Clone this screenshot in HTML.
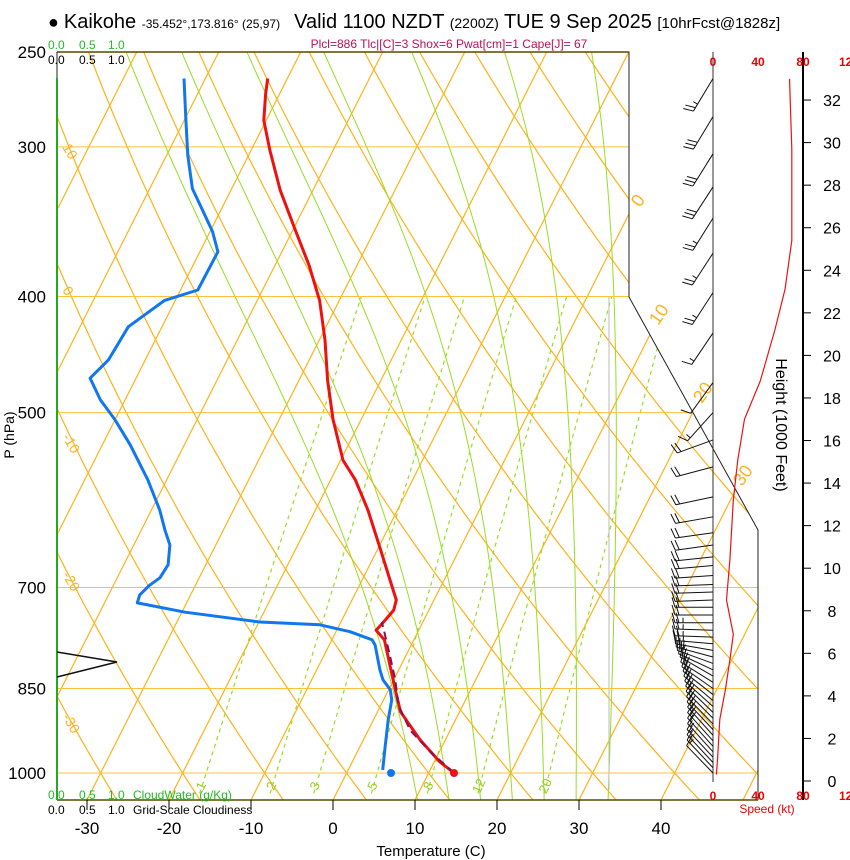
<!DOCTYPE html>
<html><head><meta charset="utf-8"><style>
html,body{margin:0;padding:0;background:#fff;}
body{width:850px;height:860px;overflow:hidden;font-family:"Liberation Sans",sans-serif;}
svg{display:block;}
</style></head><body>
<svg id="chart" width="850" height="860" viewBox="0 0 850 860" xmlns="http://www.w3.org/2000/svg" font-family="Liberation Sans, sans-serif">
<defs><clipPath id="plotclip"><polygon points="57,52 629,52 629,297 758,530 758,800 57,800"/></clipPath></defs>
<g id="bg" clip-path="url(#plotclip)"></g>
<g id="fg"></g>
</svg>
<script>
// ---- data ----
const tempP=[1000,979,938,889,852,812,774,760,745,731,717,690,651,603,569,548,507,470,435,403,377,352,326,302,285,271,263];
const tempT=[13.1,10.7,6.9,2.8,0.8,-1.4,-3.6,-5.2,-4.7,-4.3,-4.6,-6.6,-9.6,-13.6,-17.0,-19.7,-23.4,-26.5,-29.3,-32.4,-35.8,-39.7,-44.0,-47.7,-50.3,-51.7,-52.4];
const dewP=[994,948,903,869,852,836,820,782,774,762,752,748,734,721,710,697,687,670,645,627,603,569,532,507,488,468,452,424,403,395,367,353,339,325,305,285,263];
const dewT=[4.2,3.0,1.8,1.0,0.2,-1.3,-2.3,-4.4,-5.1,-8.3,-12.4,-19.9,-29.6,-36.0,-36.2,-35.6,-34.8,-34.6,-35.6,-37.1,-39.0,-42.3,-46.6,-50.0,-53.0,-55.6,-54.5,-54.1,-51.3,-47.9,-47.8,-49.7,-52.2,-54.8,-57.4,-59.8,-62.6];
const parcelP=[1000,960,921,877,836,797,748];
const parcelT=[13.1,8.9,5.1,2.1,0.2,-2.0,-5.0];
const windP=[263,283,304,324,344,368,397,429,472,500,527,555,588,611,630,645,660,671,684,696,706,717,727,738,749,760,770,780,790,800,810,820,830,840,850,860,870,880,890,900,910,920,930,940,950,960,970,980,990,1000];
const windDir=[211,211,212,213,212,213,213,214,216,222,250,255,258,260,262,262,264,265,266,268,268,268,270,270,270,272,272,275,280,285,290,295,300,302,305,308,310,312,314,315,316,317,318,318,318,318,317,317,317,316];
const windSpd=[25,30,30,30,25,25,25,15,10,15,20,20,20,20,20,20,20,20,20,20,20,20,20,20,25,25,25,25,25,25,25,25,25,20,20,20,20,20,20,20,20,20,20,20,20,15,15,15,15,10];
const spdH=[33.0,29.7,25.4,23.1,21.2,18.8,17.0,15.1,13.2,10.4,8.5,6.9,5.7,4.3,2.9,1.0,0.3];
const spdV=[68,70,70,64,55,42,28,22,18,15,12,18,15,11,6,4,3];
const tempTicks=[-30,-20,-10,0,10,20,30,40];
const presTicks=[250,300,400,500,700,850,1000];
const heightTicks=[0,2,4,6,8,10,12,14,16,18,20,22,24,26,28,30,32];
const mixRatios=[1,2,3,5,8,12,20];
const moistThetaW=[8,12,16,20,24,28,32];
// ---- axes ----
function py(p){return 773+520*Math.log(p/1000);}
function tx(T,p){return 333+8.2*T+0.505*(800-py(p));}
function hy(h){return 781-21.28*h;}
function sx(s){return 713+s*45/40;}
const NS='http://www.w3.org/2000/svg';
const bg=document.getElementById('bg'), fg=document.getElementById('fg');
function mk(tag,attrs,parent){const e=document.createElementNS(NS,tag);for(const k in attrs)e.setAttribute(k,attrs[k]);(parent||fg).appendChild(e);return e;}
function txt(s,x,y,attrs,parent){const e=mk('text',Object.assign({x:x,y:y},attrs),parent);e.textContent=s;return e;}
function pathFrom(pts){return pts.map((q,i)=>(i?'L':'M')+q[0].toFixed(1)+','+q[1].toFixed(1)).join(' ');}
for(let T=-110;T<=50;T+=10){
  const e=mk('line',{x1:tx(T,1060),y1:py(1060),x2:tx(T,240),y2:py(240),stroke:'#ffb21a','stroke-width':1.2},bg);
  
  
}
for(let th=-50;th<=200;th+=10){
  const pts=[];for(let p=1060;p>=240;p-=10){pts.push([tx((th+273.15)*Math.pow(p/1000,0.2857)-273.15,p),py(p)]);}
  const e=mk('path',{d:pathFrom(pts),fill:'none',stroke:'#ffb21a','stroke-width':1.2},bg);
  
  
}
function es(T){return 6.112*Math.exp(17.67*T/(T+243.5));}
function ws(T,p){const e=es(T);return 0.622*e/(p-e);}
const dTdp=(T,p)=>{const r=ws(T-273.15,p);return (287*T+2.5e6*r)/(1004+2.5e6*2.5e6*r*0.622/(287*T*T))/p;};
moistThetaW.forEach(t0=>{
  let T=t0+273.15,Tb=T;
  for(let pb=1000;pb<1060;pb+=5){Tb+=dTdp(Tb,pb)*5;}
  const pts=[[tx(Tb-273.15,1060),py(1060)]];
  for(let p=1000;p>=240;p-=5){pts.push([tx(T-273.15,p),py(p)]);T-=dTdp(T,p)*5;}
  const e=mk('path',{d:pathFrom(pts),fill:'none',stroke:'#99dd22','stroke-width':1},bg);
  
  
});
function tw(w,p){const e=w*p/(0.622+w);const l=Math.log(e/6.112);return 243.5*l/(17.67-l);}
mixRatios.forEach(w=>{
  const pts=[];for(let p=1040;p>=400;p-=10)pts.push([tx(tw(w/1000,p),p),py(p)]);
  const e=mk('path',{d:pathFrom(pts),fill:'none',stroke:'#99dd22','stroke-width':1.2,'stroke-dasharray':'4,4'},bg);
  
  
  const lx=tx(tw(w/1000,1030),1030);
  const t=txt(String(w),lx,790,{fill:'#99cc22','font-size':13,'text-anchor':'middle',transform:'rotate(-65 '+lx+' 786)'},bg);
  
  
});
mk('line',{x1:609,y1:297,x2:609,y2:790,stroke:'#bbb','stroke-width':1},bg);
presTicks.forEach(p=>{
  const e=mk('line',{x1:57,y1:py(p),x2:760,y2:py(p),stroke:'#ffc040','stroke-width':1},bg);
  
  
});
[[10,147],[0,290],[-10,437],[-20,575],[-30,717]].forEach(a=>{
  const t=txt(String(a[0]),62,a[1],{fill:'#ffb21a','font-size':14,transform:'rotate(60 62 '+a[1]+')'});
  
  
});
[[0,640,208],[10,658,326],[20,702,404],[30,742,487]].forEach(a=>{
  const t=txt(String(a[0]),a[1],a[2],{fill:'#ffb21a','font-size':18,transform:'rotate(-55 '+a[1]+' '+a[2]+')'});
  
  
});
mk('polyline',{points:'57,52 629,52 629,297 758,530 758,800',fill:'none',stroke:'#222','stroke-width':1});
mk('line',{x1:57,y1:52,x2:629,y2:52,stroke:'#5a4a00','stroke-width':1.5});
mk('line',{x1:57,y1:800,x2:758,y2:800,stroke:'#5a4a00','stroke-width':1.5});
mk('line',{x1:57,y1:52,x2:57,y2:78,stroke:'#222','stroke-width':1});
mk('line',{x1:57,y1:78,x2:57,y2:800,stroke:'#22aa22','stroke-width':2});
mk('polyline',{points:'57,652 117,662 57,677',fill:'none',stroke:'#111','stroke-width':1.5});
let e=mk('path',{d:pathFrom(tempP.map((p,i)=>[tx(tempT[i],p),py(p)])),fill:'none',stroke:'#ee1111','stroke-width':3,'stroke-linejoin':'round'});


e=mk('path',{d:pathFrom(dewP.map((p,i)=>[tx(dewT[i],p),py(p)])),fill:'none',stroke:'#1177ee','stroke-width':3,'stroke-linejoin':'round'});


e=mk('path',{d:pathFrom(parcelP.map((p,i)=>[tx(parcelT[i],p),py(p)])),fill:'none',stroke:'#881155','stroke-width':2,'stroke-dasharray':'8,5'});


e=mk('circle',{cx:454,cy:773,r:4,fill:'#ee1111'});


e=mk('circle',{cx:391,cy:773,r:4,fill:'#1177ee'});


mk('line',{x1:713,y1:52,x2:713,y2:782,stroke:'#333','stroke-width':1});
mk('line',{x1:803,y1:52,x2:803,y2:800,stroke:'#000','stroke-width':2});
windP.forEach((p,i)=>{
  const y=py(p),a=windDir[i]*Math.PI/180,L=38;
  const ux=Math.sin(a),uy=-Math.cos(a);
  const x2=713+ux*L,y2=y+uy*L;
  const g=mk('g',{});
  
  
  mk('line',{x1:713,y1:y,x2:x2,y2:y2,stroke:'#111','stroke-width':1},g);
  let s=windSpd[i],k=0;
  const nx=-uy,ny=ux;
  while(s>=10){const bx=x2-ux*k*4,by=y2-uy*k*4;mk('line',{x1:bx,y1:by,x2:bx+nx*10+ux*3,y2:by+ny*10+uy*3,stroke:'#111','stroke-width':1},g);s-=10;k++;}
  if(s>=5){const bx=x2-ux*k*4,by=y2-uy*k*4;mk('line',{x1:bx,y1:by,x2:bx+nx*5,y2:by+ny*5,stroke:'#111','stroke-width':1},g);}
});
e=mk('path',{d:pathFrom(spdH.map((h,i)=>[sx(spdV[i]),hy(h)])),fill:'none',stroke:'#ee1111','stroke-width':1.2});


heightTicks.forEach(h=>{
  mk('line',{x1:803,y1:hy(h),x2:811,y2:hy(h),stroke:'#000'});
  const t=txt(String(h),832,hy(h)+6,{'font-size':16,'text-anchor':'middle'});
  
  
});
[[0,713],[40,758],[80,803],[120,849]].forEach(a=>{
  txt(String(a[0]),a[1],66,{'font-size':12,'font-weight':'bold',fill:'#ee0000','text-anchor':'middle'});
  txt(String(a[0]),a[1],800,{'font-size':12,'font-weight':'bold',fill:'#ee0000','text-anchor':'middle'});
});
txt('Speed (kt)',767,813,{'font-size':12,fill:'#ee0000','text-anchor':'middle'});
txt('Height (1000 Feet)',776,425,{'font-size':16,'text-anchor':'middle',transform:'rotate(90 776 425)'});
tempTicks.forEach(T=>{
  const x=333+8.2*T;
  mk('line',{x1:x,y1:800,x2:x,y2:810,stroke:'#000'});
  const t=txt(String(T),x,834,{'font-size':17,'text-anchor':'middle'});
  
  
});
presTicks.forEach(p=>{
  const t=txt(String(p),46,py(p)+6,{'font-size':17,'text-anchor':'end'});
  
  
});
txt('Temperature (C)',431,856,{'font-size':15,'text-anchor':'middle'});
txt('P (hPa)',14,435,{'font-size':14,'text-anchor':'middle',transform:'rotate(-90 14 435)'});
[['0.0',48],['0.5',79],['1.0',108]].forEach(a=>{
  txt(a[0],a[1],49,{'font-size':12,fill:'#22bb22'});
  txt(a[0],a[1],64,{'font-size':12,fill:'#000'});
  txt(a[0],a[1],799,{'font-size':12,fill:'#22bb22'});
  txt(a[0],a[1],814,{'font-size':12,fill:'#000'});
});
txt('CloudWater (g/Kg)',133,799,{'font-size':12,fill:'#22bb22'});
txt('Grid-Scale Cloudiness',133,814,{'font-size':12,fill:'#000'});
const title=txt('',48,28,{'font-size':20});


title.innerHTML='<tspan font-size="18">● </tspan>Kaikohe <tspan font-size="12">-35.452°,173.816° (25,97)</tspan><tspan dx="14">Valid 1100 NZDT </tspan><tspan font-size="14">(2200Z)</tspan> TUE 9 Sep 2025 <tspan font-size="15">[10hrFcst@1828z]</tspan>';
txt('Plcl=886 Tlc|[C]=3 Shox=6 Pwat[cm]=1 Cape[J]= 67',449,48,{'font-size':12,fill:'#bb1155','text-anchor':'middle'});
</script>
</body></html>
